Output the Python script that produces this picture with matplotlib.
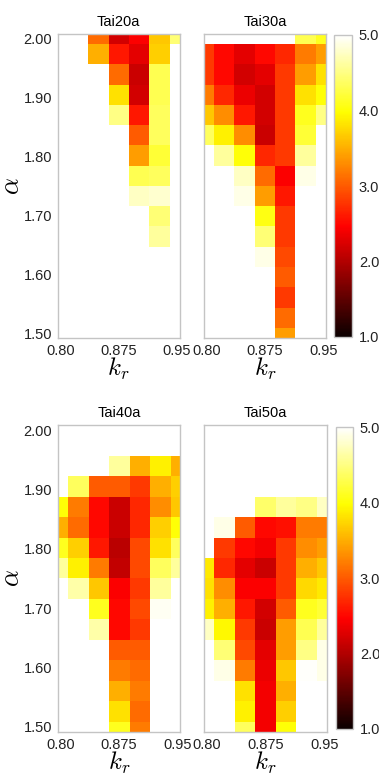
import numpy as np
import matplotlib
matplotlib.use("Agg")
import matplotlib.pyplot as plt

plt.rcParams['font.family'] = ['Liberation Sans', 'DejaVu Sans']
plt.rcParams['mathtext.fontset'] = 'cm'

n = np.nan

# k_r grid (columns) and alpha grid (rows, top to bottom)
kr_ticks = [0.80, 0.875, 0.95]
kr_labels = ['0.80', '0.875', '0.95']
alpha_ticks = [1.5, 1.6, 1.7, 1.8, 1.9, 2.0]
alpha_labels = ['1.50', '1.60', '1.70', '1.80', '1.90', '2.00']

tai20a = [
    [n, n, 3.1, 2.2, 2.45, 3.65, 4.45],
    [n, n, 3.5, 2.6, 2.3, 3.7, n],
    [n, n, n, 3.1, 2.15, 4.3, n],
    [n, n, n, 3.8, 2.2, 4.3, n],
    [n, n, n, 4.5, 2.6, 4.35, n],
    [n, n, n, n, 3.0, 4.35, n],
    [n, n, n, n, 3.4, 4.2, n],
    [n, n, n, n, 4.3, 4.35, n],
    [n, n, n, n, 4.75, 4.8, n],
    [n, n, n, n, n, 4.45, n],
    [n, n, n, n, n, 4.6, n],
    [n, n, n, n, n, n, n],
    [n, n, n, n, n, n, n],
    [n, n, n, n, n, n, n],
    [n, n, n, n, n, n, n],
    [n, n, n, n, n, n, n],
]

tai30a = [
    [n, n, n, n, n, 4.3, 4.1],
    [2.8, 2.5, 2.3, 2.5, 2.7, 3.2, 3.4],
    [2.8, 2.5, 2.2, 2.3, 2.8, 3.4, 3.8],
    [3.2, 2.7, 2.35, 2.2, 2.8, 3.8, 4.0],
    [3.65, 3.3, 2.6, 2.2, 2.8, 4.1, 4.5],
    [4.35, 3.9, 3.3, 2.15, 2.8, 4.2, n],
    [n, 4.6, 4.0, 2.7, 2.8, 4.6, n],
    [n, n, 4.75, 3.1, 2.45, 4.9, n],
    [n, n, 4.9, 3.4, 2.6, n, n],
    [n, n, n, 4.05, 2.8, n, n],
    [n, n, n, 4.45, 2.8, n, n],
    [n, n, n, 4.9, 2.9, n, n],
    [n, n, n, n, 3.0, n, n],
    [n, n, n, n, 2.8, n, n],
    [n, n, n, n, 3.1, n, n],
    [n, n, n, n, 3.4, n, n],
]

tai40a = [
    [n, n, n, n, n, n, n],
    [n, n, n, n, n, n, n],
    [n, n, n, 4.6, 3.5, 3.9, 3.5],
    [n, 4.35, 3.0, 3.0, 2.8, 3.5, 3.7],
    [4.0, 3.2, 2.5, 2.15, 2.7, 3.3, 3.65],
    [3.5, 3.1, 2.5, 2.15, 2.7, 3.7, 4.0],
    [4.1, 3.7, 2.6, 2.05, 2.9, 3.8, 4.35],
    [4.6, 3.9, 3.2, 2.1, 2.9, 4.35, 4.6],
    [n, 4.65, 3.65, 2.45, 2.8, 4.6, n],
    [n, n, 4.1, 2.5, 2.9, 4.95, n],
    [n, n, 4.65, 2.5, 2.8, n, n],
    [n, n, n, 3.0, 3.0, n, n],
    [n, n, n, 3.2, 3.1, n, n],
    [n, n, n, 3.5, 3.2, n, n],
    [n, n, n, 3.8, 3.1, n, n],
    [n, n, n, 4.1, 3.2, n, n],
]

tai50a = [
    [n, n, n, n, n, n, n],
    [n, n, n, n, n, n, n],
    [n, n, n, n, n, n, n],
    [n, n, n, n, n, n, n],
    [n, n, n, 4.4, 4.6, 4.5, 4.75],
    [n, 4.9, 3.0, 2.5, 2.55, 3.2, 3.2],
    [n, 2.8, 2.5, 2.4, 2.8, 3.3, 3.4],
    [3.85, 2.7, 2.3, 2.15, 2.8, 3.5, 3.65],
    [3.8, 3.3, 2.45, 2.45, 2.8, 3.75, 3.85],
    [3.9, 3.5, 2.6, 2.2, 3.0, 4.1, 4.2],
    [4.75, 3.95, 2.8, 2.15, 3.4, 4.3, 4.6],
    [n, 4.45, 2.9, 2.3, 3.4, 4.5, 4.9],
    [n, 4.9, 3.2, 2.35, 3.65, 4.98, 4.9],
    [n, n, 3.8, 2.4, 3.5, n, n],
    [n, n, 3.9, 2.4, 3.7, n, n],
    [n, n, 4.35, 2.4, 4.0, n, n],
]

panels = {'Tai20a': tai20a, 'Tai30a': tai30a, 'Tai40a': tai40a, 'Tai50a': tai50a}

W, H = 379, 775
fig = plt.figure(figsize=(W / 100, H / 100), dpi=100)
fig.patch.set_facecolor('white')


def rect(l, t, r, b):
    return [l / W, 1 - b / H, (r - l) / W, (b - t) / H]


boxes = {
    'Tai20a': rect(57.7, 34, 179.5, 338),
    'Tai30a': rect(204, 34, 326, 338),
    'Tai40a': rect(57.7, 425, 180, 732),
    'Tai50a': rect(204, 425, 327, 732),
}
cb_boxes = [rect(334, 35, 352, 337), rect(336, 427, 353, 729)]

spine_col = '#c4c4c4'
xlim = (0.7965, 0.9535)
ylim = (1.4915, 2.0085)
# the 7x16 grid fills the axes, edge cells cut in half
hx = (xlim[1] - xlim[0]) / 6 / 2
hy = (ylim[1] - ylim[0]) / 15 / 2
ext = [xlim[0] - hx, xlim[1] + hx, ylim[0] - hy, ylim[1] + hy]

ims = {}
for name, data in panels.items():
    ax = fig.add_axes(boxes[name])
    im = ax.imshow(np.array(data), cmap='hot', vmin=1, vmax=5, extent=ext,
                   origin='upper', aspect='auto', interpolation='nearest')
    ims[name] = im
    ax.set_xlim(*xlim)
    ax.set_ylim(*ylim)
    ax.set_xticks(kr_ticks)
    ax.set_xticklabels(kr_labels)
    ax.set_yticks(alpha_ticks)
    ax.tick_params(length=0, labelsize=10.5, pad=4, colors='#222222')
    for s in ax.spines.values():
        s.set_color(spine_col)
        s.set_linewidth(1)
    ax.set_title(name, fontsize=10.5, pad=6)
    ax.set_xlabel('$k_r$', fontsize=18, labelpad=-1)
    if name in ('Tai20a', 'Tai40a'):
        ax.set_yticklabels(alpha_labels)
        ax.set_ylabel(r'$\alpha$', fontsize=19)
        ax.yaxis.set_label_coords(-0.275, 0.5)
    else:
        ax.set_yticklabels([])

for box, key in zip(cb_boxes, ['Tai30a', 'Tai50a']):
    cax = fig.add_axes(box)
    cb = fig.colorbar(ims[key], cax=cax, ticks=[1, 2, 3, 4, 5], format='%.1f')
    cb.outline.set_edgecolor(spine_col)
    cb.outline.set_linewidth(1)
    cax.tick_params(length=0, labelsize=10.5, pad=5, colors='#222222')

fig.savefig('out.png', dpi=100, facecolor='white')
